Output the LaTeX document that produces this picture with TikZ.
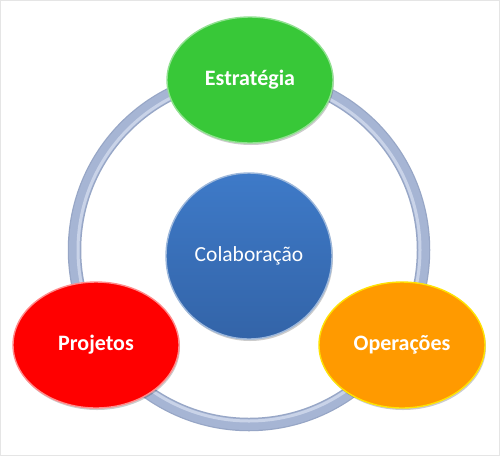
\documentclass[tikz,border=0pt]{standalone}
\usepackage{fontspec}
\setmainfont{Carlito}
\usetikzlibrary{shapes.geometric,shadows}
\definecolor{ringc}{HTML}{A6B5D4}
\definecolor{ringlight}{HTML}{C9D3E8}
\definecolor{ringdark}{HTML}{97A6C6}
\definecolor{greenc}{HTML}{38C838}
\definecolor{bluetop}{HTML}{3E7AC8}
\definecolor{bluebot}{HTML}{3364A8}
\definecolor{bluec}{HTML}{3A6FB8}
\definecolor{redc}{HTML}{FF0000}
\definecolor{orangec}{HTML}{FF9A00}
\tikzset{
  bubble/.style={ellipse, inner sep=0pt, minimum width=166pt, minimum height=126pt,
    text=white, font=\fontsize{22}{26}\selectfont\bfseries,
    drop shadow={shadow xshift=1pt, shadow yshift=-2pt, opacity=0.2, fill=black}},
  hub/.style={circle, inner sep=0pt, minimum size=166pt,
    top color=bluetop, bottom color=bluebot,
    draw=bluec!50!white, line width=1.4pt, text=white,
    font=\fontsize{21.5}{26}\selectfont,
    drop shadow={shadow xshift=1pt, shadow yshift=-2pt, opacity=0.2, fill=black}}
}
\begin{document}
\begin{tikzpicture}[x=1pt,y=-1pt]
\useasboundingbox (0,0) rectangle (500,456);
\fill[white] (0,0) rectangle (500,456);
\draw[black!10, line width=0.8pt] (0.5,0.5) rectangle (499.5,455.5);
\coordinate (c) at (249,250);
% ring
\draw[ringdark, line width=13.5pt] (c) circle[radius=174.5pt];
\draw[ringc, line width=11pt] (c) circle[radius=174.5pt];
\draw[ringlight, line width=3pt] (c) circle[radius=171pt];
% nodes
\node[hub] (colab) at (249,256) {Colaboração};
\node[bubble, fill=greenc, draw=greenc!55!white, line width=1.4pt] (estr) at (250,80) {Estratégia};
\node[bubble, fill=redc, draw=redc!45!white, line width=1.4pt] (proj) at (96,345) {Projetos};
\node[bubble, fill=orangec, draw=yellow!85!orange, line width=1.4pt] (oper) at (402,345) {Operações};
\end{tikzpicture}
\end{document}
